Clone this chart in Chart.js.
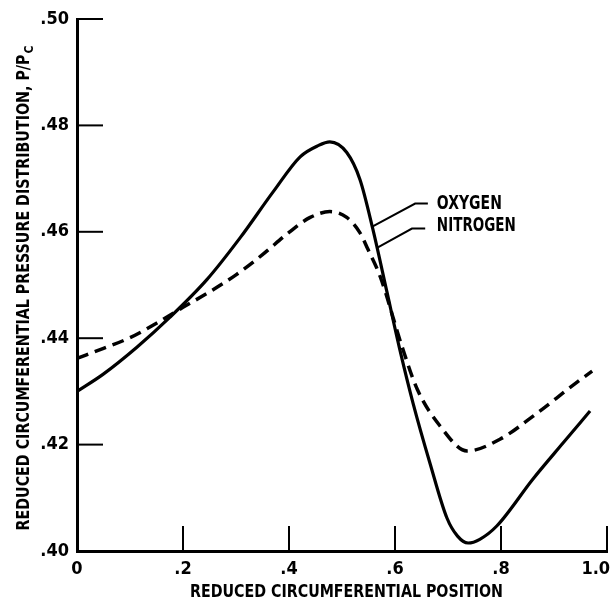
<!DOCTYPE html>
<html>
<head>
<meta charset="utf-8">
<script src="https://cdn.jsdelivr.net/npm/chart.js@4.4.1/dist/chart.umd.min.js"></script>
<style>
body{margin:0;background:#fff;}
#wrap{width:616px;height:607px;position:relative;}
</style>
</head>
<body>
<div id="wrap"><canvas id="chart" width="616" height="607"></canvas></div>
<script>
// values
let oxygenX=[0,0.049,0.113,0.175,0.245,0.308,0.370,0.421,0.455,0.477,0.509,0.534,0.558,0.585,0.609,0.634,0.666,0.698,0.718,0.738,0.760,0.792,0.860,0.917,0.968];
let oxygenY=[0.4300,0.4332,0.4383,0.4439,0.4510,0.4589,0.4675,0.4741,0.4762,0.4769,0.4749,0.4698,0.4606,0.4486,0.4379,0.4278,0.4165,0.4062,0.4028,0.4015,0.4022,0.4047,0.4135,0.4203,0.4263];
let nitrogenX=[0,0.050,0.100,0.150,0.200,0.250,0.300,0.350,0.400,0.440,0.477,0.509,0.534,0.549,0.572,0.613,0.642,0.685,0.736,0.798,0.860,0.943,0.972];
let nitrogenY=[0.4362,0.4381,0.4401,0.4428,0.4458,0.4487,0.4519,0.4557,0.4599,0.4627,0.4638,0.4627,0.4598,0.4567,0.4516,0.4385,0.4304,0.4235,0.4188,0.4210,0.4253,0.4317,0.4338];
let xTicks=[0,0.2,0.4,0.6,0.8,1.0];
let yTicks=[0.40,0.42,0.44,0.46,0.48,0.50];
let seriesNames=["OXYGEN","NITROGEN"];

let FONT="'Liberation Sans Narrow','DejaVu Sans Condensed',sans-serif";

function pts(xs,ys){
    return xs.map((x,i)=>({x:x,y:ys[i]}));
}

// squeeze text along its baseline so it fits maxW
function fitText(ctx,text,x,y,maxW){
    let w=ctx.measureText(text).width;
    let s=Math.min(1,maxW/w);
    ctx.save();
    ctx.translate(x,y);
    ctx.scale(s,1);
    ctx.fillText(text,0,0);
    ctx.restore();
    return w*s;
}

// leader labels, in data units
let labels=[
    {text:seriesNames[0],w:65,tx:0.679,ty:0.4652,line:[[0.662,0.4653],[0.638,0.4653],[0.558,0.4610]]},
    {text:seriesNames[1],w:79,tx:0.679,ty:0.4610,line:[[0.657,0.4606],[0.632,0.4606],[0.566,0.4570]]}
];

let extras={
    id:"extras",
    afterDraw(chart){
        let ctx=chart.ctx;
        let xs=chart.scales.x, ys=chart.scales.y;
        let a=chart.chartArea;
        ctx.save();
        ctx.strokeStyle="#000";
        ctx.fillStyle="#000";

        // inward tick marks
        ctx.lineWidth=2;
        yTicks.forEach(v=>{
            if(v==0.40) return;
            let py=ys.getPixelForValue(v);
            ctx.beginPath();ctx.moveTo(a.left,py);ctx.lineTo(a.left+26,py);ctx.stroke();
        });
        xTicks.forEach(v=>{
            if(v==0) return;
            let px=xs.getPixelForValue(v);
            ctx.beginPath();ctx.moveTo(px,a.bottom);ctx.lineTo(px,a.bottom-25);ctx.stroke();
        });

        // leader lines + names
        ctx.lineWidth=2;
        labels.forEach(l=>{
            ctx.beginPath();
            l.line.forEach((p,i)=>{
                let px=xs.getPixelForValue(p[0]), py=ys.getPixelForValue(p[1]);
                if(i==0) ctx.moveTo(px,py); else ctx.lineTo(px,py);
            });
            ctx.stroke();
            ctx.font="bold 19px "+FONT;
            ctx.textAlign="left";
            ctx.textBaseline="middle";
            fitText(ctx,l.text,xs.getPixelForValue(l.tx),ys.getPixelForValue(l.ty),l.w);
        });

        // x title
        ctx.font="bold 18px "+FONT;
        ctx.textAlign="left";
        ctx.textBaseline="middle";
        fitText(ctx,"REDUCED CIRCUMFERENTIAL POSITION",190,592,313);

        // y title with subscript
        let main="REDUCED CIRCUMFERENTIAL PRESSURE DISTRIBUTION, P/P";
        ctx.translate(24,(a.top+a.bottom)/2+3);
        ctx.rotate(-Math.PI/2);
        ctx.font="bold 18px "+FONT;
        let total=485, subW=8;
        let x0=-total/2;
        fitText(ctx,main,x0,0,total-subW-1);
        ctx.font="bold 12px "+FONT;
        ctx.fillText("C",x0+total-subW,6);
        ctx.restore();
    }
};

new Chart(document.getElementById("chart"),{
    type:"line",
    data:{
        datasets:[{
            label:seriesNames[0],
            data:pts(oxygenX,oxygenY),
            borderColor:"#000",
            borderWidth:3.2,
            pointRadius:0,
            cubicInterpolationMode:"monotone",
            fill:false
        },{
            label:seriesNames[1],
            data:pts(nitrogenX,nitrogenY),
            borderColor:"#000",
            borderWidth:3.5,
            borderDash:[12,7],
            pointRadius:0,
            cubicInterpolationMode:"monotone",
            fill:false
        }]
    },
    options:{
        responsive:false,
        animation:false,
        devicePixelRatio:1,
        layout:{padding:{left:0,right:9,top:19,bottom:0}},
        plugins:{legend:{display:false},tooltip:{enabled:false}},
        scales:{
            x:{
                type:"linear",
                min:0,max:1,
                afterBuildTicks:s=>{s.ticks=xTicks.map(v=>({value:v}));},
                afterFit:s=>{s.height=56;s.paddingLeft=0;s.paddingRight=0;},
                grid:{display:false,drawTicks:false},
                border:{display:true,color:"#000",width:3},
                ticks:{
                    color:"#000",
                    font:{family:FONT,size:18,weight:"bold"},
                    padding:8,
                    maxRotation:0,
                    autoSkip:false,
                    callback:v=>v==0?"0":(v==1?"1.0    ":"."+Math.round(v*10))
                }
            },
            y:{
                type:"linear",
                min:0.40,max:0.50,
                afterBuildTicks:s=>{s.ticks=yTicks.map(v=>({value:v}));},
                afterFit:s=>{s.width=77;s.paddingTop=0;s.paddingBottom=0;},
                grid:{display:false,drawTicks:false},
                border:{display:true,color:"#000",width:3},
                ticks:{
                    color:"#000",
                    font:{family:FONT,size:18,weight:"bold"},
                    padding:8,
                    autoSkip:false,
                    callback:v=>"."+Math.round(v*100)
                }
            }
        }
    },
    plugins:[extras]
});
</script>
</body>
</html>
